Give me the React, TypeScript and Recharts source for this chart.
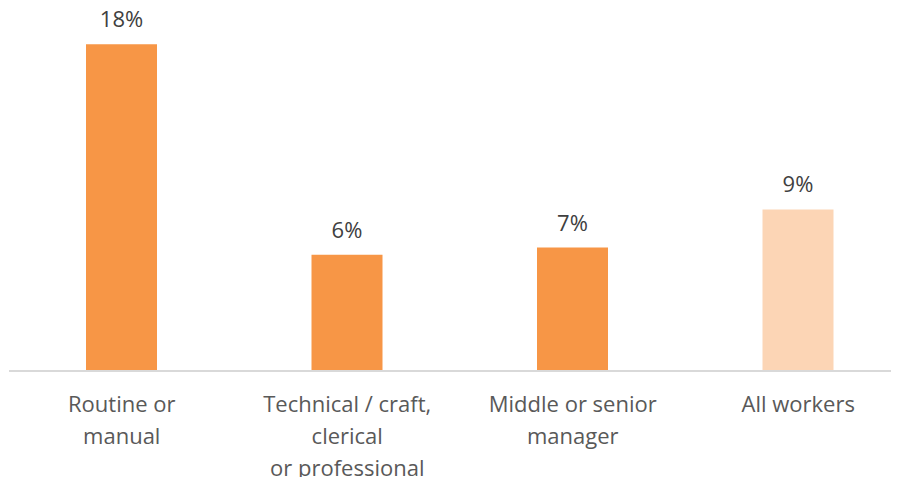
import { BarChart, Bar, XAxis, YAxis, Cell, LabelList } from "recharts";

const categories = [
  "Routine or\nmanual",
  "Technical / craft,\nclerical\nor professional",
  "Middle or senior\nmanager",
  "All workers",
];
const shares = [18, 6.4, 6.8, 8.9];

const data = categories.map((name, i) => ({ name, share: shares[i] }));

const ORANGE = "#F79646";
const PEACH = "#FCD5B5";
const FONT = "'Open Sans', sans-serif";

function CategoryTick({ x, y, payload }: any) {
  const lines = String(payload.value).split("\n");
  return (
    <text x={x} y={y} textAnchor="middle" fill="#595959" fontSize={22} fontFamily={FONT}>
      {lines.map((line, i) => (
        <tspan key={i} x={x} dy={i === 0 ? 41 : 32}>
          {line}
        </tspan>
      ))}
    </text>
  );
}

export default function App() {
  return (
    <div style={{ margin: -8, width: 899, height: 485, overflow: "hidden", background: "#fff" }}>
      <BarChart width={911} height={485} data={data} margin={{ top: 8, right: 0, bottom: 0, left: 9 }}>
        <XAxis
          dataKey="name"
          axisLine={{ stroke: "#d9d9d9", strokeWidth: 2 }}
          tickLine={false}
          tickSize={0}
          tickMargin={0}
          height={114}
          interval={0}
          tick={<CategoryTick />}
        />
        <YAxis hide domain={[0, 20]} />
        <Bar dataKey="share" barSize={71} isAnimationActive={false}>
          {data.map((_, i) => (
            <Cell key={i} fill={i === data.length - 1 ? PEACH : ORANGE} />
          ))}
          <LabelList
            dataKey="share"
            position="top"
            offset={17}
            formatter={(v: any) => `${Math.round(Number(v))}%`}
            fill="#404040"
            fontSize={22}
            fontFamily={FONT}
          />
        </Bar>
      </BarChart>
    </div>
  );
}
